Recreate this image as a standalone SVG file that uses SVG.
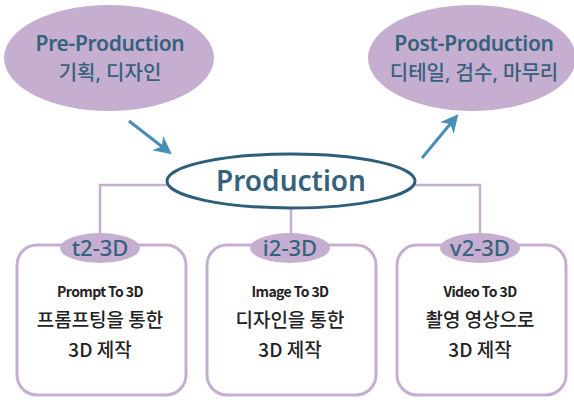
<svg xmlns="http://www.w3.org/2000/svg" width="574" height="400" viewBox="0 0 574 400">
<defs>
<style>
.lav{fill:#c6aed0;}
.t{font-family:"Noto Sans","Noto Sans CJK KR",sans-serif;fill:#35627c;text-anchor:middle;}
.k{font-family:"Noto Sans CJK KR",sans-serif;fill:#222;text-anchor:middle;}
.box{fill:#fff;stroke:#c6aed0;stroke-width:3;}
.con{fill:none;stroke:#c6aed0;stroke-width:2.5;}
.arr{stroke:#4a8db5;stroke-width:3;fill:none;}
</style>
<marker id="ah" viewBox="0 0 10 10" refX="8" refY="5" markerWidth="6" markerHeight="6" orient="auto" markerUnits="strokeWidth">
<path d="M0,0 L10,5 L0,10 L3,5 Z" fill="#4a8db5"/>
</marker>
</defs>
<rect width="574" height="400" fill="#fff"/>
<g id="connectors">
<path class="con" d="M170,185 H100 V242"/>
<path class="con" d="M412,185 H480 V242"/>
<path class="con" d="M291,208 V242"/>
<path class="arr" d="M129,121 L169,152" marker-end="url(#ah)"/>
<path class="arr" d="M422,158 L456,117" marker-end="url(#ah)"/>
</g>
<g id="pre">
<ellipse class="lav" cx="109" cy="58" rx="105" ry="53"/>
<text class="t" x="110" y="51" font-size="21" font-weight="600" letter-spacing="-0.3">Pre-Production</text>
<text class="t" x="110" y="80" font-size="20" font-weight="500">기획, 디자인</text>
</g>
<g id="post">
<ellipse class="lav" cx="472" cy="58" rx="104" ry="53"/>
<text class="t" x="474" y="51" font-size="21" font-weight="600" letter-spacing="-0.3">Post-Production</text>
<text class="t" x="474" y="80" font-size="20" font-weight="500">디테일, 검수, 마무리</text>
</g>
<g id="production">
<ellipse cx="291" cy="181" rx="124" ry="27" fill="#fff" stroke="#2e5f7a" stroke-width="3"/>
<text class="t" x="291" y="191" font-size="28" font-weight="600">Production</text>
</g>
<g id="t2">
<rect class="box" x="17" y="245" width="169" height="150" rx="20"/>
<ellipse class="lav" cx="100" cy="248" rx="40" ry="15"/>
<text class="t" x="100" y="256" font-size="22" font-weight="500">t2-3D</text>
<text class="k" x="100" y="297" font-size="14" font-weight="700" letter-spacing="-0.6">Prompt To 3D</text>
<text class="k" x="100" y="327" font-size="19" font-weight="500">프롬프팅을 통한</text>
<text class="k" x="100" y="357" font-size="19" font-weight="500">3D 제작</text>
</g>
<g id="i2">
<rect class="box" x="207" y="245" width="169" height="150" rx="20"/>
<ellipse class="lav" cx="290" cy="248" rx="40" ry="15"/>
<text class="t" x="290" y="256" font-size="22" font-weight="500">i2-3D</text>
<text class="k" x="290" y="297" font-size="14" font-weight="700" letter-spacing="-0.6">Image To 3D</text>
<text class="k" x="290" y="327" font-size="19" font-weight="500">디자인을 통한</text>
<text class="k" x="290" y="357" font-size="19" font-weight="500">3D 제작</text>
</g>
<g id="v2">
<rect class="box" x="397" y="245" width="169" height="150" rx="20"/>
<ellipse class="lav" cx="480" cy="248" rx="40" ry="15"/>
<text class="t" x="480" y="256" font-size="22" font-weight="500">v2-3D</text>
<text class="k" x="480" y="297" font-size="14" font-weight="700" letter-spacing="-0.6">Video To 3D</text>
<text class="k" x="480" y="327" font-size="19" font-weight="500">촬영 영상으로</text>
<text class="k" x="480" y="357" font-size="19" font-weight="500">3D 제작</text>
</g>
</svg>
